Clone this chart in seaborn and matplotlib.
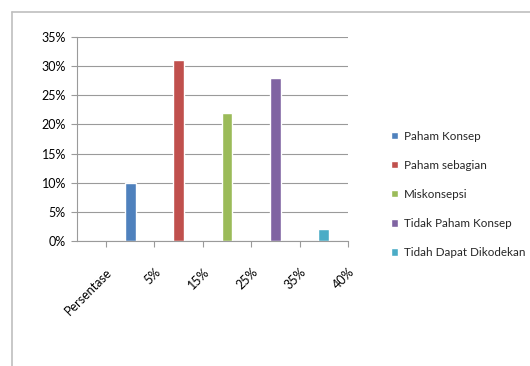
import matplotlib
matplotlib.use("Agg")
import matplotlib.pyplot as plt
import seaborn as sns
import pandas as pd
from matplotlib.ticker import PercentFormatter
from matplotlib.lines import Line2D

series = ["Paham Konsep", "Paham sebagian", "Miskonsepsi", "Tidak Paham Konsep", "Tidah Dapat Dikodekan"]
values = [0.10, 0.31, 0.22, 0.28, 0.02]
tick_labels = ["Persentase", "5%", "15%", "25%", "35%", "40%"]
colors = ["#4F81BD", "#C0504D", "#9BBB59", "#8064A2", "#4BACC6"]

df = pd.DataFrame({"series": series, "value": values})

sns.set_theme(style="white")
plt.rcParams["font.family"] = ["Lato", "DejaVu Sans"]

fig = plt.figure(figsize=(5.3, 3.66), dpi=100)
W, H = 530, 366
ax = fig.add_axes([77 / W, 1 - 241 / H, (348 - 77) / W, (241 - 37) / H])

sns.barplot(data=df, x="series", y="value", hue="series", palette=colors,
            width=0.22, ax=ax, legend=True, saturation=1)

ax.set_ylim(0, 0.35)
ax.set_yticks([i * 0.05 for i in range(8)])
ax.yaxis.set_major_formatter(PercentFormatter(1, decimals=0))
ax.set_xlim(-1.1, 4.4)
ax.set_xticks([i - 0.5 for i in range(6)])
ax.set_xticklabels(tick_labels, rotation=45, ha="right", rotation_mode="anchor")
ax.set_xlabel("")
ax.set_ylabel("")
ax.grid(axis="y", color="#9A9A9A", linewidth=0.8)
ax.set_axisbelow(True)
for s in ["top", "right"]:
    ax.spines[s].set_visible(False)
for s in ["left", "bottom"]:
    ax.spines[s].set_color("#9A9A9A")
    ax.spines[s].set_linewidth(0.8)
ax.tick_params(axis="both", labelsize=9, colors="#9A9A9A", labelcolor="black",
               length=4, width=0.8, direction="out")
ax.tick_params(axis="y", left=True, pad=4)
ax.tick_params(axis="x", bottom=True, pad=14)

sns.move_legend(ax, "upper left", bbox_to_anchor=(380 / W, 1 - 120 / H),
                bbox_transform=fig.transFigure, frameon=False, title=None,
                fontsize=8.4, handlelength=0.65, handleheight=0.65,
                labelspacing=1.55, handletextpad=0.5)

# chart frame (left and top edges visible)
fig.add_artist(Line2D([12 / W, 12 / W], [0, 1 - 12 / H], transform=fig.transFigure,
                      color="#BFBFBF", linewidth=1.2))
fig.add_artist(Line2D([12 / W, 1], [1 - 12 / H, 1 - 12 / H], transform=fig.transFigure,
                      color="#BFBFBF", linewidth=1.2))

fig.savefig("out.png", dpi=100)
